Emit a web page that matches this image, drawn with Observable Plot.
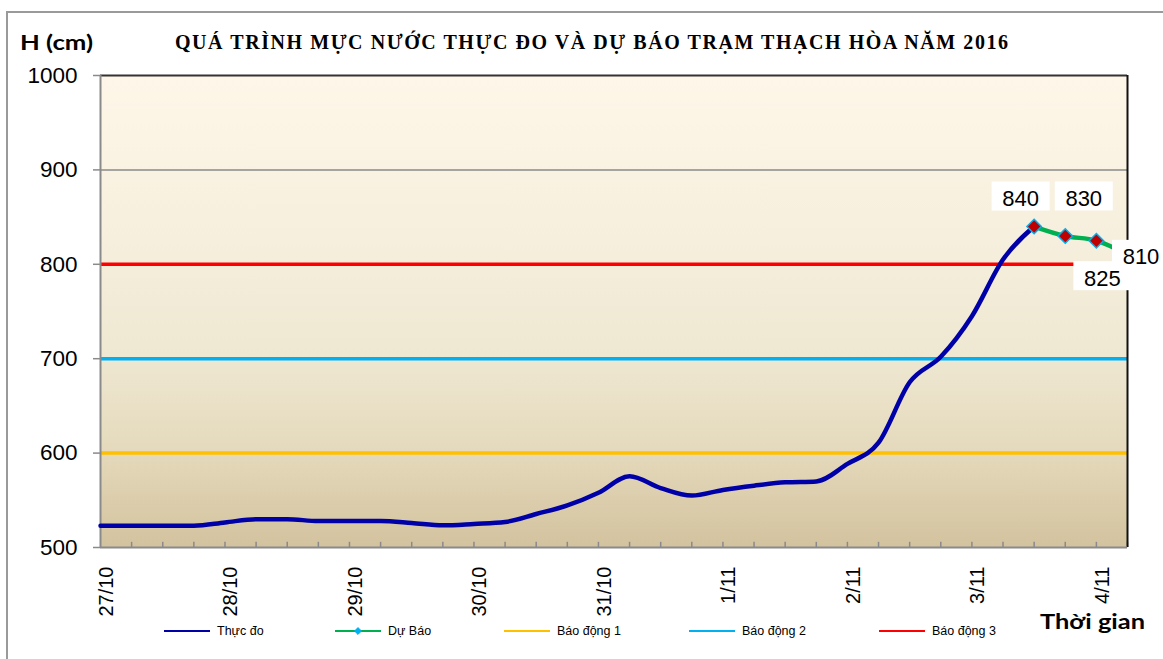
<!DOCTYPE html>
<html><head><meta charset="utf-8">
<script src="https://cdn.jsdelivr.net/npm/d3@7"></script>
<script src="https://cdn.jsdelivr.net/npm/@observablehq/plot@0.6"></script>
<style>
html,body{margin:0;padding:0;background:#fff;}
#wrap{position:relative;width:1163px;height:659px;overflow:hidden;}
</style></head><body><div id="wrap"></div>
<script>
// ---- text ----
const titleText = "QUÁ TRÌNH MỰC NƯỚC THỰC ĐO VÀ DỰ BÁO TRẠM THẠCH HÒA NĂM 2016";
const yTitle = "H (cm)";
const xTitle = "Thời gian";
const seriesNames = ["Thực đo", "Dự Báo", "Báo động 1", "Báo động 2", "Báo động 3"];

// ---- observed water level (cm), every 6 hours ----
const observedTimes = [
  "2016-10-27 00:00","2016-10-27 06:00","2016-10-27 12:00","2016-10-27 18:00",
  "2016-10-28 00:00","2016-10-28 06:00","2016-10-28 12:00","2016-10-28 18:00",
  "2016-10-29 00:00","2016-10-29 06:00","2016-10-29 12:00","2016-10-29 18:00",
  "2016-10-30 00:00","2016-10-30 06:00","2016-10-30 12:00","2016-10-30 18:00",
  "2016-10-31 00:00","2016-10-31 06:00","2016-10-31 12:00","2016-10-31 18:00",
  "2016-11-01 00:00","2016-11-01 06:00","2016-11-01 12:00","2016-11-01 18:00",
  "2016-11-02 00:00","2016-11-02 06:00","2016-11-02 12:00","2016-11-02 18:00",
  "2016-11-03 00:00","2016-11-03 06:00","2016-11-03 12:00"
];
const observedLevels = [
  523, 523, 523, 523,
  526.5, 530, 530, 528,
  528, 528, 526, 523.5,
  525, 527, 535.5, 544.5,
  558, 575.5, 563, 555,
  561, 565.5, 569, 570,
  588.5, 611, 675, 702,
  745, 805, 840
];

// ---- forecast ----
const forecastTimes = ["2016-11-03 12:00","2016-11-03 18:00","2016-11-04 00:00","2016-11-04 06:00"];
const forecastLevels = [840, 830, 825, 810];

// ---- alarm levels ----
const alarmLevels = [600, 700, 800];

// ---- axis ----
const dayTimes = ["2016-10-27 00:00","2016-10-28 00:00","2016-10-29 00:00","2016-10-30 00:00","2016-10-31 00:00","2016-11-01 00:00","2016-11-02 00:00","2016-11-03 00:00","2016-11-04 00:00"];
const dayLabels = ["27/10","28/10","29/10","30/10","31/10","1/11","2/11","3/11","4/11"];
const yTicks = [500, 600, 700, 800, 900, 1000];
const xStart = "2016-10-27 00:00", xEnd = "2016-11-04 06:00";

// ---- colours ----
const cObs = "#0000A8", cFc = "#00B050", cAlarm = ["#FFC000", "#00B0F0", "#FF0000"];
const cMarkFill = "#C00000", cMarkStroke = "#00B0F0";

const parse = d3.utcParse("%Y-%m-%d %H:%M");
const observed = observedTimes.map((t, i) => ({t: parse(t), v: observedLevels[i]}));
const forecast = forecastTimes.map((t, i) => ({t: parse(t), v: forecastLevels[i]}));
const alarms = alarmLevels.map((v, i) => ({v, c: cAlarm[i]}));
const days = dayTimes.map(parse);
const x0 = parse(xStart), x1 = parse(xEnd);
const minorTicks = d3.utcHour.every(6).range(x0, x1).slice(1).concat([x1]);

const defsMark = () => {
  const defs = d3.create("svg:defs");
  const g = defs.append("linearGradient").attr("id", "bgGrad")
    .attr("x1", 0).attr("y1", 0).attr("x2", 0).attr("y2", 1);
  [[0, "#FEF6E8"], [0.35, "#F6EFDD"], [0.6, "#EEE7D1"], [0.8, "#E4D9BB"], [1, "#D3C29E"]]
    .forEach(([o, c]) => g.append("stop").attr("offset", o).attr("stop-color", c));
  return defs.node();
};

function labelBox(i, dx, dy) {
  return (index, scales) => {
    const d = forecast[i];
    const cx = scales.x(d.t) + dx, cy = scales.y(d.v) + dy;
    const g = d3.create("svg:g");
    const w = 58, h = 29;
    g.append("rect").attr("x", cx - w / 2).attr("y", cy - h / 2 - 2).attr("width", w).attr("height", h).attr("fill", "#fff");
    g.append("text").attr("x", cx).attr("y", cy).attr("dy", "0.36em").attr("text-anchor", "middle")
      .attr("font-size", 22).attr("font-family", "'Liberation Sans', Arial, sans-serif").attr("fill", "#000")
      .text(String(d.v));
    return g.node();
  };
}

const chart = Plot.plot({
  width: 1163, height: 659,
  marginLeft: 100, marginRight: 36, marginTop: 75, marginBottom: 112,
  x: {type: "utc", domain: [x0, x1], axis: null},
  y: {domain: [500, 1000]},
  style: {fontFamily: "'Liberation Sans', Arial, sans-serif", background: "transparent", overflow: "visible"},
  marks: [
    defsMark,
    Plot.frame({fill: "url(#bgGrad)"}),
    Plot.ruleY([900], {stroke: "#8a8a8a", strokeWidth: 1.5}),
    Plot.ruleY(alarms, {y: "v", stroke: "c", strokeWidth: 3.5}),
    Plot.ruleX(minorTicks, {x: d => d, y1: 500, y2: 505.5, stroke: "#8a8a8a", strokeWidth: 1.5}),
    Plot.ruleY([1000], {stroke: "#333", strokeWidth: 2}),
    Plot.ruleX([x1], {stroke: "#111", strokeWidth: 2}),
    Plot.ruleX([x0], {stroke: "#8a8a8a", strokeWidth: 2}),
    Plot.ruleY([500], {stroke: "#8a8a8a", strokeWidth: 2}),
    Plot.axisY({ticks: yTicks, tickFormat: d => String(d), tickSize: 7, tickPadding: 16, fontSize: 22.5, stroke: "#8a8a8a", strokeWidth: 1.5, fill: "#000", label: null}),
    Plot.text(dayLabels, {x: (d, i) => days[i], frameAnchor: "bottom", rotate: -90, textAnchor: "end", lineAnchor: "middle", dy: 19, dx: 6, fontSize: 20, fill: "#000"}),
    Plot.line(observed, {x: "t", y: "v", stroke: cObs, strokeWidth: 4.5, curve: "monotone-x"}),
    Plot.line(forecast, {x: "t", y: "v", stroke: cFc, strokeWidth: 4.5, curve: "monotone-x"}),
    Plot.dot(forecast.slice(0, 3), {x: "t", y: "v", symbol: "diamond2", r: 6.5, fill: cMarkFill, stroke: cMarkStroke, strokeWidth: 1.5}),
    labelBox(0, -13, -28),
    labelBox(1, 19, -37.5),
    labelBox(2, 6.5, 37.5),
    labelBox(3, 14, 2)
  ]
});

const wrap = document.getElementById("wrap");
wrap.appendChild(chart);
const svg = d3.select(chart);

// outer frame
svg.insert("rect", ":first-child").attr("x", 7).attr("y", 12).attr("width", 1300).attr("height", 800)
  .attr("fill", "none").attr("stroke", "#9a9a9a").attr("stroke-width", 2);

// titles
svg.append("text").attr("x", 591.5).attr("y", 42).attr("dy", "0.35em").attr("text-anchor", "middle")
  .attr("font-family", "'Liberation Serif', 'Times New Roman', serif").attr("font-weight", "bold")
  .attr("font-size", 20).attr("textLength", 833).attr("lengthAdjust", "spacing").attr("fill", "#000").text(titleText);
svg.append("text").attr("x", 20).attr("y", 42).attr("dy", "0.36em").attr("text-anchor", "start")
  .attr("font-family", "Lato, 'Open Sans', sans-serif").attr("font-weight", "bold")
  .attr("font-size", 21).attr("textLength", 73).attr("lengthAdjust", "spacingAndGlyphs").attr("fill", "#000").text(yTitle);
svg.append("text").attr("x", 1040).attr("y", 622).attr("dy", "0.36em").attr("text-anchor", "start")
  .attr("font-family", "Lato, 'Open Sans', sans-serif").attr("font-weight", "bold")
  .attr("font-size", 20).attr("textLength", 105).attr("lengthAdjust", "spacingAndGlyphs").attr("fill", "#000").text(xTitle);

// legend
const legendColors = [cObs, cFc, cAlarm[0], cAlarm[1], cAlarm[2]];
const legendX = [164, 335, 504, 689, 879];
const legendY = 631;
const lg = svg.append("g");
seriesNames.forEach((name, i) => {
  const lx = legendX[i];
  lg.append("line").attr("x1", lx).attr("x2", lx + 46).attr("y1", legendY).attr("y2", legendY)
    .attr("stroke", legendColors[i]).attr("stroke-width", 2);
  if (i === 1) {
    lg.append("path").attr("d", d3.symbol(d3.symbolDiamond2, 30)()).attr("transform", `translate(${lx + 23},${legendY})`)
      .attr("fill", cMarkStroke).attr("stroke", cMarkStroke);
  }
  lg.append("text").attr("x", lx + 53).attr("y", legendY).attr("dy", "0.35em").attr("text-anchor", "start")
    .attr("font-size", 12.5).attr("font-family", "'Liberation Sans', Arial, sans-serif").attr("fill", "#000").text(name);
});
</script></body></html>
